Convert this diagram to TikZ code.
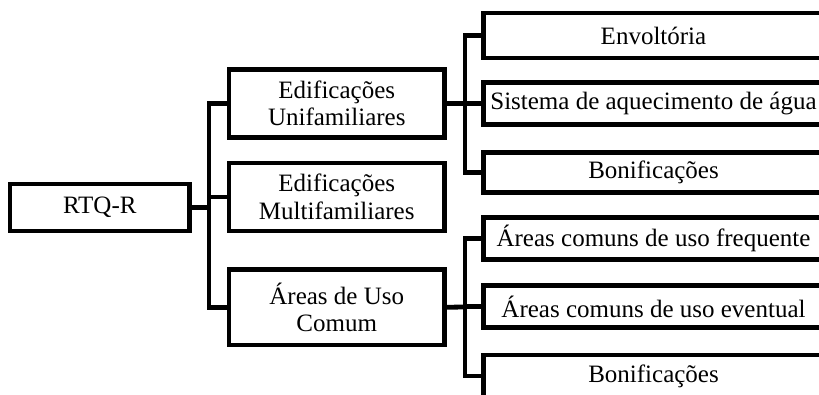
\documentclass[tikz,border=0pt]{standalone}
\usepackage{fontspec}
\setmainfont{Liberation Serif}
\begin{document}
\begin{tikzpicture}[x=1pt,y=-1pt,
  line width=4.8pt,
  box/.style={draw=black,rectangle,inner sep=0pt,align=center,
    font=\fontsize{25}{27.5}\selectfont},
  rootbox/.style={box,minimum width=179.5pt,minimum height=47pt},
  midbox/.style={box,minimum width=215.5pt},
  leafbox/.style={box,minimum width=340pt,minimum height=42pt}]
\useasboundingbox (0,0) rectangle (819,395);
\clip (0,0) rectangle (819,395);
% root
\node[rootbox] (rtq) at (99.75,207.5) {RTQ-R};
% middle level
\node[midbox,minimum height=68pt] (m1) at (336.75,103.5) {Edificações\\Unifamiliares};
\node[midbox,minimum height=68pt] (m2) at (336.75,197) {Edificações\\Multifamiliares};
\node[midbox,minimum height=75.5pt] (m3) at (336.75,307.25) {Áreas de Uso\\Comum};
% leaves upper group
\node[leafbox,minimum height=45pt] (a) at (653.5,35.5) {Envoltória};
\node[leafbox] (b) at (653.5,103.5) {Sistema de aquecimento de água};
\node[leafbox,minimum height=40pt] (c) at (653.5,172.5) {Bonificações};
% leaves lower group
\node[leafbox] (d) at (653.5,238.5) {Áreas comuns de uso frequente};
\node[leafbox] (e) at (653.5,306.5) {Áreas comuns de uso eventual};
\node[leafbox] (f) at (653.5,376) {Bonificações};
% connectors
\coordinate (t0) at (209,207.5);
\coordinate (t1) at (465,103.5);
\coordinate (t2) at (465,307);
\draw (rtq.east) -- (t0);
\draw (t0) |- (m1.west);
\draw (t0) |- (m2.west);
\draw (t0) |- (m3.west);
\draw (m1.east) -- (t1);
\draw (t1) |- (a.west);
\draw (t1) |- (b.west);
\draw (t1) |- (c.west);
\draw (m3.east) -- (t2);
\draw (t2) |- (d.west);
\draw (t2) |- (e.west);
\draw (t2) |- (f.west);
\end{tikzpicture}
\end{document}
